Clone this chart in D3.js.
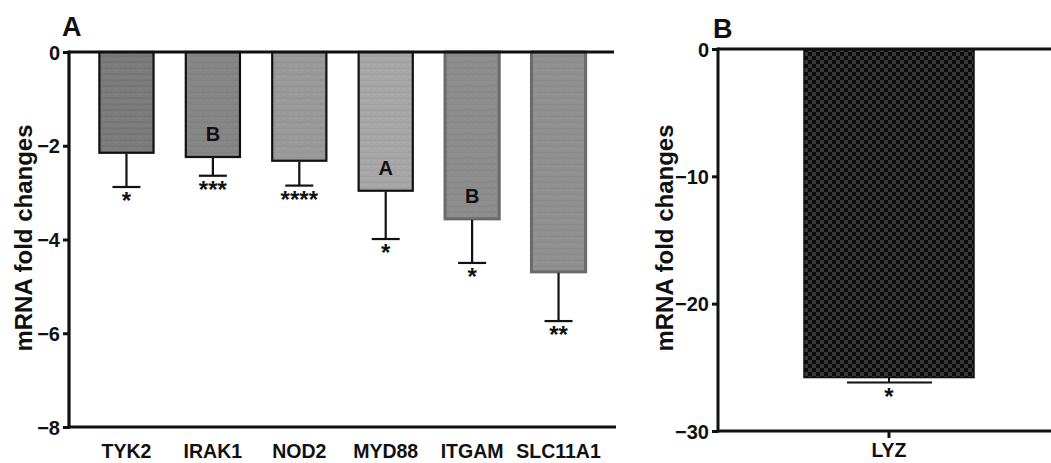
<!DOCTYPE html>
<html><head><meta charset="utf-8">
<script src="https://cdn.jsdelivr.net/npm/d3@7"></script>
<style>body{margin:0;background:#fff}svg{display:block}text{font-family:"Liberation Sans",Arial,sans-serif;font-weight:bold;fill:#111}</style>
</head><body><svg id="c" width="1051" height="463"></svg>
<script>
const genesA = ["TYK2","IRAK1","NOD2","MYD88","ITGAM","SLC11A1"];
const meansA = [-2.15,-2.24,-2.32,-2.96,-3.56,-4.69];
const errLowA = [-2.88,-2.64,-2.85,-3.99,-4.50,-5.74];
const starsA = ["*","***","****","*","*","**"];
const lettersA = ["","B","","A","B",""];
const fillsA = ["#7d7d7d","#868686","#9a9a9a","#a7a7a7","#8d8d8d","#909090"];
const strokesA = ["#111","#111","#111","#111","#6a6a6a","#6a6a6a"];
const ticksA = [0,-2,-4,-6,-8];
const genesB = ["LYZ"];
const meansB = [-25.8];
const errLowB = [-26.2];
const starsB = ["*"];
const ticksB = [0,-10,-20,-30];

const svg = d3.select("#c");
const defs = svg.append("defs");
fillsA.forEach((c,i)=>{
  const p = defs.append("pattern").attr("id","pA"+i).attr("width",6).attr("height",6).attr("patternUnits","userSpaceOnUse");
  p.append("rect").attr("width",6).attr("height",6).attr("fill",c);
  const dk = d3.color(c).darker(i===0?0.45:0.25);
  const lt = d3.color(c).brighter(0.2);
  p.append("path").attr("d","M0,1.5 Q1.5,4 3,1.5 Q4.5,4 6,1.5").attr("fill","none").attr("stroke",dk).attr("stroke-width",0.8);
  p.append("path").attr("d","M1.5,4.5 l1.5,0").attr("stroke",lt).attr("stroke-width",0.8);
});
const pb = defs.append("pattern").attr("id","pB").attr("width",8).attr("height",8).attr("patternUnits","userSpaceOnUse");
pb.append("rect").attr("width",8).attr("height",8).attr("fill","#0d0d0d");
pb.append("rect").attr("width",4).attr("height",4).attr("fill","#383838");
pb.append("rect").attr("x",4).attr("y",4).attr("width",4).attr("height",4).attr("fill","#383838");

const fmt = d=>d===0?"0":"\u2212"+Math.abs(d);

// Panel A
const xA = d3.scaleBand().domain(genesA).range([69,616]).paddingInner(0.35).paddingOuter(0.34);
const yA = d3.scaleLinear().domain([0,-8]).range([52,427]);
const gA = svg.append("g");
gA.selectAll("rect.bar").data(genesA).join("rect")
  .attr("x",d=>xA(d)+1).attr("width",xA.bandwidth()-2)
  .attr("y",yA(0)).attr("height",(d,i)=>yA(meansA[i])-yA(0))
  .attr("fill",(d,i)=>"url(#pA"+i+")").attr("stroke",(d,i)=>strokesA[i]).attr("stroke-width",(d,i)=>i>=4?3:2.2);
gA.selectAll("line.err").data(genesA).join("line")
  .attr("x1",d=>xA(d)+xA.bandwidth()/2).attr("x2",d=>xA(d)+xA.bandwidth()/2)
  .attr("y1",(d,i)=>yA(meansA[i])+1).attr("y2",(d,i)=>yA(errLowA[i])).attr("stroke","#111").attr("stroke-width",2.2);
gA.selectAll("line.cap").data(genesA).join("line")
  .attr("x1",d=>xA(d)+xA.bandwidth()/2-14).attr("x2",d=>xA(d)+xA.bandwidth()/2+14)
  .attr("y1",(d,i)=>yA(errLowA[i])).attr("y2",(d,i)=>yA(errLowA[i])).attr("stroke","#111").attr("stroke-width",2.2);
gA.selectAll("text.star").data(genesA).join("text")
  .attr("x",d=>xA(d)+xA.bandwidth()/2).attr("y",(d,i)=>yA(errLowA[i])+22)
  .attr("text-anchor","middle").style("font-size","24px").text((d,i)=>starsA[i]);
gA.selectAll("text.let").data(genesA).join("text")
  .attr("x",d=>xA(d)+xA.bandwidth()/2).attr("y",(d,i)=>yA(meansA[i])-16)
  .attr("text-anchor","middle").style("font-size","20px").text((d,i)=>lettersA[i]);
const axLA = gA.append("g").attr("transform","translate(69,0)")
  .call(d3.axisLeft(yA).tickValues(ticksA).tickSize(6).tickFormat(fmt));
axLA.select(".domain").attr("stroke","#111").attr("stroke-width",3.2).attr("d","M0,50.5V428.5");
axLA.selectAll(".tick line").attr("stroke","#111").attr("stroke-width",3);
axLA.selectAll(".tick text").style("font-size","20px").attr("x",-9).attr("dy","0.36em");
gA.append("line").attr("x1",69).attr("x2",614).attr("y1",yA(0)).attr("y2",yA(0)).attr("stroke","#111").attr("stroke-width",3.2);
gA.append("line").attr("x1",69).attr("x2",616).attr("y1",yA(-8)).attr("y2",yA(-8)).attr("stroke","#111").attr("stroke-width",3.2);
gA.selectAll("text.cat").data(genesA).join("text")
  .attr("x",d=>xA(d)+xA.bandwidth()/2).attr("y",458).attr("text-anchor","middle")
  .style("font-size","19.5px").text(d=>d);
gA.append("text").attr("transform","translate(32,238) rotate(-90)").attr("text-anchor","middle")
  .style("font-size","24px").text("mRNA fold changes");
gA.append("text").attr("x",62).attr("y",36).style("font-size","27px").text("A");

// Panel B
const xB = d3.scaleBand().domain(genesB).range([718,1060]).paddingInner(0).paddingOuter(0.25);
const yB = d3.scaleLinear().domain([0,-30]).range([49,431]);
const gB = svg.append("g");
const bw = 170;
gB.selectAll("rect.bar").data(genesB).join("rect")
  .attr("x",d=>xB(d)+xB.bandwidth()/2-bw/2).attr("width",bw)
  .attr("y",yB(0)).attr("height",(d,i)=>yB(meansB[i])-yB(0))
  .attr("fill","url(#pB)").attr("stroke","#111").attr("stroke-width",1.5);
gB.selectAll("line.err").data(genesB).join("line")
  .attr("x1",d=>xB(d)+xB.bandwidth()/2).attr("x2",d=>xB(d)+xB.bandwidth()/2)
  .attr("y1",(d,i)=>yB(meansB[i])).attr("y2",(d,i)=>yB(errLowB[i])).attr("stroke","#111").attr("stroke-width",2);
gB.selectAll("line.cap").data(genesB).join("line")
  .attr("x1",d=>xB(d)+xB.bandwidth()/2-42).attr("x2",d=>xB(d)+xB.bandwidth()/2+43)
  .attr("y1",(d,i)=>yB(errLowB[i])).attr("y2",(d,i)=>yB(errLowB[i])).attr("stroke","#111").attr("stroke-width",2);
gB.selectAll("text.star").data(genesB).join("text")
  .attr("x",d=>xB(d)+xB.bandwidth()/2).attr("y",(d,i)=>yB(errLowB[i])+22)
  .attr("text-anchor","middle").style("font-size","24px").text((d,i)=>starsB[i]);
const axLB = gB.append("g").attr("transform","translate(718,0)")
  .call(d3.axisLeft(yB).tickValues(ticksB).tickSize(6).tickFormat(fmt));
axLB.select(".domain").attr("stroke","#111").attr("stroke-width",3).attr("d","M0,47.5V432.5");
axLB.selectAll(".tick line").attr("stroke","#111").attr("stroke-width",3);
axLB.selectAll(".tick text").style("font-size","20px").attr("x",-9).attr("dy","0.36em");
gB.append("line").attr("x1",718).attr("x2",1051).attr("y1",yB(0)).attr("y2",yB(0)).attr("stroke","#111").attr("stroke-width",3);
const axBB = gB.append("g").attr("transform","translate(0,"+yB(-30)+")").call(d3.axisBottom(xB).tickSize(7).tickSizeOuter(0));
axBB.select(".domain").attr("stroke","#111").attr("stroke-width",3).attr("d","M718,0H1051");
axBB.selectAll(".tick line").attr("stroke","#111").attr("stroke-width",3);
axBB.selectAll(".tick text").style("font-size","19.5px").attr("y",12).attr("dy","0.71em");
gB.append("text").attr("transform","translate(673,238) rotate(-90)").attr("text-anchor","middle")
  .style("font-size","24px").text("mRNA fold changes");
gB.append("text").attr("x",713).attr("y",38).style("font-size","27px").text("B");
</script></body></html>
